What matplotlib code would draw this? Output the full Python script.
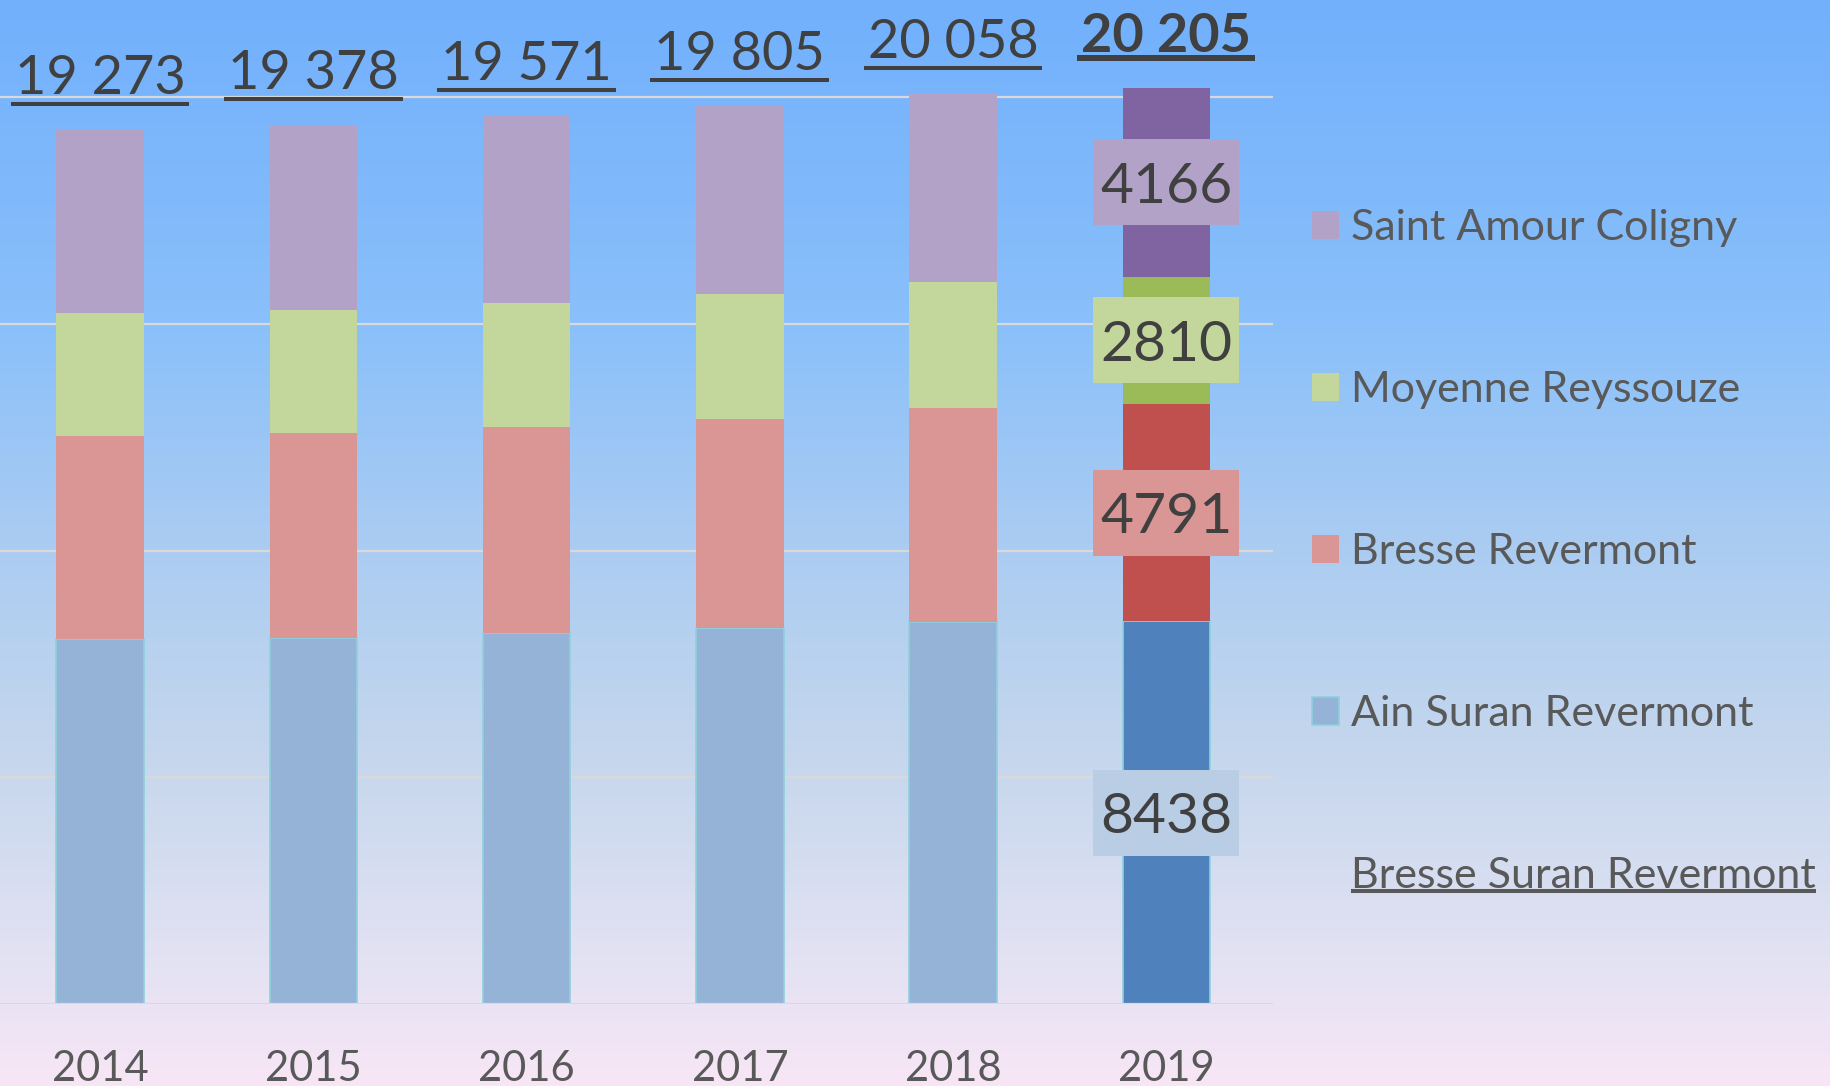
import numpy as np
import matplotlib
matplotlib.use('Agg')
import matplotlib.pyplot as plt
from matplotlib.patches import Patch, Rectangle
from matplotlib.lines import Line2D
from matplotlib.transforms import IdentityTransform

plt.rcParams['font.family'] = ['Lato', 'DejaVu Sans']

#Data (inhabitants per sector)
years = ['2014', '2015', '2016', '2017', '2018', '2019']
ain_suran = [8042, 8064, 8174, 8291, 8417, 8438]
bresse_revermont = [4483, 4527, 4549, 4609, 4725, 4791]
moyenne_reyssouze = [2712, 2712, 2735, 2756, 2779, 2810]
saint_amour = [4036, 4075, 4113, 4149, 4137, 4166]
series_names = ['Ain Suran Revermont', 'Bresse Revermont', 'Moyenne Reyssouze', 'Saint Amour Coligny']
total_name = 'Bresse Suran Revermont'

#Colours: faded for old years, full for the last one
light_colors = ['#95B3D7', '#DA9694', '#C3D69B', '#B3A2C7']
box_colors = ['#B9CDE5', '#DA9694', '#C3D69B', '#B3A2C7']
dark_colors = ['#4F81BD', '#C0504D', '#9BBB59', '#8064A2']
ain_edge = '#8FD0DC'
text_dark = '#404040'
text_grey = '#595959'
grid_col = '#D9D9D9'

W, H = 1831, 1086
fig = plt.figure(figsize=(W / 100, H / 100), dpi=100)

#Background gradient, blue at the top to pale pink at the bottom
bg = fig.add_axes([0, 0, 1, 1], zorder=-10)
stops = [0.0, 0.3, 0.5, 0.7, 0.88, 1.0]
rgb = np.array([[114, 176, 253], [138, 192, 250], [170, 204, 242],
                [198, 215, 237], [226, 226, 243], [248, 230, 246]]) / 255
t = np.linspace(0, 1, 500)
grad = np.stack([np.interp(t, stops, rgb[:, k]) for k in range(3)], axis=1)[:, None, :]
bg.imshow(grad, aspect='auto', extent=[0, 1, 0, 1])
bg.axis('off')

#Main axes (0 at pixel row 1004, 5000 per 226.75 px)
px_per_unit = 226.75 / 5000
ax = fig.add_axes([-6.5 / W, (H - 1004) / H, 1279.5 / W, 1004 / H])
ax.patch.set_alpha(0)
ax.set_xlim(-0.5, 5.5)
ax.set_ylim(0, 1004 / px_per_unit)
for s in ax.spines.values():
    s.set_visible(False)
ax.set_yticks([])

for v in [5000, 10000, 15000, 20000]:
    ax.axhline(v, color=grid_col, lw=1.6, zorder=0)
ax.axhline(0, color=grid_col, lw=1.6, zorder=3)

x = np.arange(len(years))
series = [ain_suran, bresse_revermont, moyenne_reyssouze, saint_amour]
box_w = 146 / 213.25
box_h = 86 / px_per_unit
bottom = np.zeros(len(years))
for k, vals in enumerate(series):
    cols = [light_colors[k]] * (len(years) - 1) + [dark_colors[k]]
    if k == 0:
        ax.bar(x, vals, 0.41, bottom=bottom, color=cols, edgecolor=ain_edge, linewidth=1.2, zorder=2)
    else:
        ax.bar(x, vals, 0.41, bottom=bottom, color=cols, linewidth=0, zorder=2)
    #labels in boxes on the last bar
    mid = bottom[-1] + vals[-1] / 2
    ax.add_patch(Rectangle((x[-1] - box_w / 2, mid - box_h / 2), box_w, box_h,
                           fc=box_colors[k], ec='none', zorder=4))
    ax.text(x[-1], mid, str(vals[-1]), ha='center', va='center_baseline',
            fontsize=41, color=text_dark, zorder=5)
    bottom = bottom + np.array(vals)

totals = bottom.astype(int)

#Totals above bars
total_texts = []
for i, tot in enumerate(totals):
    lab = f"{tot:,}".replace(",", " ")
    tt = ax.annotate(lab, (x[i], tot), xytext=(0, 26), textcoords='offset points',
                     ha='center', va='baseline', fontsize=39, color=text_dark,
                     fontweight='bold' if i == len(totals) - 1 else 'normal')
    total_texts.append(tt)

#Year labels
ax.set_xticks(x, years)
ax.tick_params(axis='x', length=0, labelsize=30, labelcolor=text_grey, pad=33)

#Legend
handles = [Patch(fc=light_colors[3]), Patch(fc=light_colors[2]), Patch(fc=light_colors[1]),
           Patch(fc=light_colors[0], ec=ain_edge, lw=1.2), Patch(fc='none', ec='none')]
labels = [series_names[3], series_names[2], series_names[1], series_names[0], total_name]
leg = fig.legend(handles, labels, loc='center left', bbox_to_anchor=(1311.7 / W, 1 - 551.75 / H),
                 frameon=False, fontsize=31, labelcolor=text_grey, handlelength=0.63,
                 handleheight=0.63, handletextpad=0.29, labelspacing=2.88, borderpad=0,
                 borderaxespad=0)

#Underlines, drawn in pixel coordinates once the text is laid out
fig.canvas.draw()
renderer = fig.canvas.get_renderer()
for i, tt in enumerate(total_texts):
    bb = tt.get_window_extent(renderer)
    base = ax.transData.transform((x[i], totals[i]))[1] + 26 * 100 / 72
    if i == len(total_texts) - 1:
        y, lw = base - 6.5, 4.3
    else:
        y, lw = base - 10, 2.9
    fig.add_artist(Line2D([bb.x0 - 4, bb.x1 + 4], [y, y], transform=IdentityTransform(),
                          color=text_dark, lw=lw, solid_capstyle='butt'))
lt = leg.get_texts()[-1]
bb = lt.get_window_extent(renderer)
fig.add_artist(Line2D([bb.x0, bb.x1], [bb.y0 + 4, bb.y0 + 4], transform=IdentityTransform(),
                      color=text_grey, lw=2.9, solid_capstyle='butt'))

fig.savefig('out.png', dpi=100)
